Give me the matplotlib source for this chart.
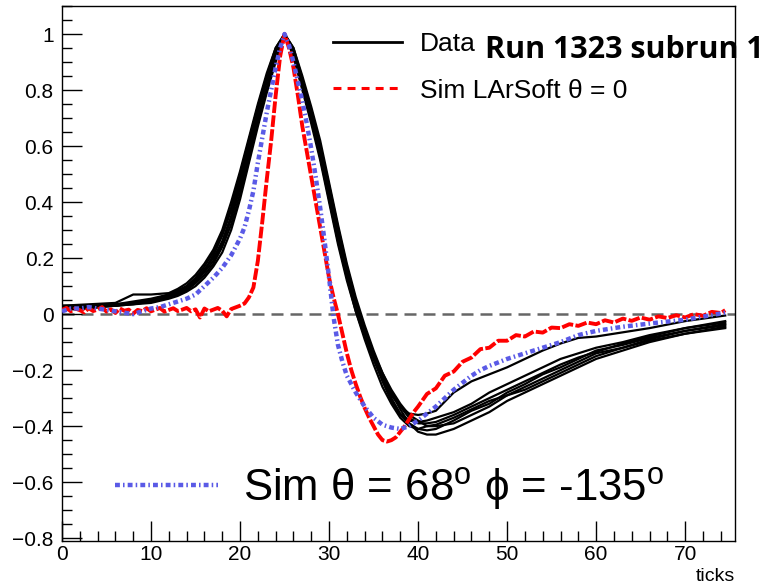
import matplotlib
matplotlib.use('Agg')
import matplotlib.pyplot as plt
from matplotlib import font_manager
from matplotlib.lines import Line2D
from matplotlib.ticker import MultipleLocator, FuncFormatter

# ---- data ----
# black data waveforms, all sampled at the same ticks
data_ticks = [0, 3, 6, 8, 10, 12, 13, 14, 15, 16, 17, 18, 19, 20, 21, 22, 23, 24, 25,
              26, 27, 28, 29, 30, 31, 32, 33, 34, 35, 36, 37, 38, 39, 40, 41, 42,
              44, 46, 48, 50, 52, 54, 56, 58, 60, 63, 66, 70, 74.5]
data_1 = [0.025, 0.03, 0.035, 0.04, 0.05, 0.07, 0.085, 0.10, 0.125, 0.16, 0.20, 0.26, 0.35, 0.47,
          0.60, 0.72, 0.83, 0.93, 1.0, 0.93, 0.81, 0.70, 0.57, 0.42, 0.27, 0.14, 0.02, -0.07, -0.15,
          -0.22, -0.28, -0.33, -0.37, -0.39, -0.39, -0.385, -0.36, -0.33, -0.30, -0.27, -0.24,
          -0.21, -0.18, -0.155, -0.135, -0.105, -0.08, -0.05, -0.03]
data_2 = [0.03, 0.035, 0.04, 0.07, 0.07, 0.075, 0.09, 0.11, 0.14, 0.18, 0.23, 0.30, 0.40, 0.51,
          0.63, 0.75, 0.86, 0.95, 1.0, 0.92, 0.80, 0.68, 0.55, 0.40, 0.25, 0.12, 0.01, -0.08, -0.16,
          -0.23, -0.29, -0.33, -0.355, -0.36, -0.355, -0.345, -0.28, -0.24, -0.215, -0.19, -0.16,
          -0.13, -0.105, -0.085, -0.08, -0.065, -0.05, -0.025, -0.005]
data_3 = [0.02, 0.025, 0.03, 0.035, 0.04, 0.055, 0.065, 0.08, 0.10, 0.13, 0.17, 0.22, 0.30, 0.41,
          0.54, 0.67, 0.79, 0.90, 1.0, 0.95, 0.85, 0.74, 0.62, 0.47, 0.32, 0.18, 0.06, -0.04, -0.13,
          -0.21, -0.28, -0.34, -0.39, -0.42, -0.43, -0.43, -0.41, -0.38, -0.35, -0.31, -0.28,
          -0.25, -0.22, -0.19, -0.16, -0.13, -0.10, -0.07, -0.05]
data_4 = [0.02, 0.03, 0.03, 0.04, 0.045, 0.06, 0.075, 0.09, 0.115, 0.15, 0.19, 0.25, 0.34, 0.45,
          0.58, 0.70, 0.81, 0.92, 1.0, 0.94, 0.83, 0.72, 0.59, 0.45, 0.30, 0.16, 0.04, -0.05, -0.14,
          -0.21, -0.27, -0.32, -0.36, -0.38, -0.40, -0.40, -0.39, -0.36, -0.33, -0.29, -0.26,
          -0.23, -0.20, -0.17, -0.14, -0.12, -0.09, -0.06, -0.04]
data_5 = [0.03, 0.03, 0.035, 0.045, 0.055, 0.07, 0.08, 0.095, 0.12, 0.155, 0.21, 0.28, 0.37, 0.49,
          0.62, 0.74, 0.85, 0.94, 1.0, 0.93, 0.82, 0.71, 0.58, 0.44, 0.29, 0.15, 0.03, -0.07, -0.16,
          -0.24, -0.31, -0.36, -0.39, -0.41, -0.415, -0.41, -0.38, -0.345, -0.32, -0.28, -0.25,
          -0.215, -0.19, -0.16, -0.13, -0.11, -0.085, -0.06, -0.035]
data_6 = [0.015, 0.02, 0.03, 0.035, 0.045, 0.06, 0.07, 0.085, 0.11, 0.14, 0.18, 0.24, 0.32, 0.43,
          0.56, 0.69, 0.80, 0.91, 1.0, 0.95, 0.84, 0.73, 0.60, 0.46, 0.31, 0.17, 0.05, -0.06, -0.15,
          -0.23, -0.30, -0.355, -0.38, -0.385, -0.38, -0.37, -0.35, -0.32, -0.28, -0.25, -0.22,
          -0.19, -0.16, -0.14, -0.12, -0.10, -0.075, -0.05, -0.025]
data_7 = [0.025, 0.03, 0.03, 0.04, 0.05, 0.065, 0.08, 0.10, 0.13, 0.17, 0.22, 0.29, 0.38, 0.50,
          0.62, 0.74, 0.85, 0.95, 1.0, 0.93, 0.82, 0.70, 0.56, 0.41, 0.26, 0.13, 0.01, -0.09, -0.18,
          -0.26, -0.32, -0.37, -0.40, -0.41, -0.40, -0.395, -0.37, -0.34, -0.31, -0.29, -0.27,
          -0.24, -0.21, -0.18, -0.15, -0.12, -0.095, -0.07, -0.045]
data_runs = [data_1, data_2, data_3, data_4, data_5, data_6, data_7]

# red: Sim LArSoft theta = 0
sim0_ticks = [0.0, 0.5, 1.0, 1.5, 2.0, 2.5, 3.0, 3.5, 4.0, 4.5, 5.0, 5.5, 6.0, 6.5, 7.0, 7.5,
              8.0, 8.5, 9.0, 9.5, 10.0, 10.5, 11.0, 11.5, 12.0, 12.5, 13.0, 13.5, 14.0, 14.5,
              15.0, 15.5, 16.0, 16.5, 17.0, 17.5, 18.0, 18.5, 19.0, 19.5, 20.0, 20.5, 21.0,
              21.5, 22.0, 22.5, 23.0, 23.5, 24.0, 24.5, 25.0, 25.5, 26.0, 26.5, 27.0, 27.5,
              28.0, 28.5, 29.0, 29.5, 30.0, 30.5, 31.0, 31.5, 32.0, 32.5, 33.0, 33.5, 34.0,
              34.5, 35.0, 35.5, 36.0, 36.5, 37.0, 37.5, 38.0, 38.5, 39.0, 39.5, 40.0,
              41, 42, 43, 44, 45, 46, 47, 48, 49, 50, 51, 52, 53, 54, 55, 56, 57, 58, 59, 60,
              61, 62, 63, 64, 65, 66, 67, 68, 69, 70, 71, 72, 73, 74, 74.5]
sim0 = [0.015, 0.022, 0.010, 0.020, 0.014, 0.006, 0.021, 0.011, 0.016, 0.025, 0.009, 0.017,
        0.004, 0.020, 0.012, 0.016, 0.002, 0.015, 0.011, 0.021, 0.010, 0.016, 0.022, 0.009,
        0.015, 0.021, 0.011, 0.016, 0.022, 0.010, 0.017, -0.012, 0.020, 0.010, 0.016, 0.022,
        0.012, -0.008, 0.018, 0.024, 0.030, 0.038, 0.060, 0.095, 0.19, 0.33, 0.48, 0.62, 0.78,
        0.92, 1.0, 0.95, 0.88, 0.78, 0.67, 0.58, 0.49, 0.40, 0.31, 0.22, 0.13, 0.06, 0.0,
        -0.07, -0.14, -0.20, -0.25, -0.295, -0.335, -0.37, -0.40, -0.43, -0.45, -0.455, -0.45,
        -0.44, -0.42, -0.40, -0.375, -0.35, -0.33,
        -0.285, -0.265, -0.22, -0.205, -0.17, -0.155, -0.125, -0.12, -0.095, -0.095, -0.075,
        -0.08, -0.062, -0.066, -0.048, -0.05, -0.036, -0.042, -0.03, -0.036, -0.022, -0.03,
        -0.016, -0.024, -0.012, -0.02, -0.008, -0.014, -0.004, -0.012, 0.0, -0.006, 0.008,
        0.004, 0.014]

# blue: Sim theta = 68, phi = -135
sim68_ticks = [0, 1, 2, 3, 4, 5, 6, 7, 8, 9, 10, 11, 12, 13, 14, 15, 16, 17, 18, 19, 20,
               20.5, 21, 21.5, 22, 22.5, 23, 23.5, 24, 24.5, 25, 25.5, 26, 26.5, 27, 27.5,
               28, 28.5, 29, 29.5, 30, 30.5, 31, 31.5, 32,
               33, 34, 35, 36, 37, 38, 39, 40, 41, 42, 43, 44, 45, 46, 47, 48,
               50, 52, 54, 56, 58, 60, 63, 67, 70, 74.5]
sim68 = [0.01, 0.02, 0.02, 0.025, 0.02, 0.015, 0.01, 0.005, 0.0, 0.01, 0.02, 0.025, 0.035,
         0.045, 0.055, 0.07, 0.10, 0.13, 0.165, 0.21, 0.27,
         0.31, 0.37, 0.44, 0.54, 0.63, 0.72, 0.80, 0.88, 0.95, 1.0, 0.96, 0.90, 0.83, 0.76,
         0.68, 0.59, 0.49, 0.38, 0.26, 0.13, -0.01, -0.11, -0.17, -0.22,
         -0.28, -0.33, -0.37, -0.395, -0.405, -0.41, -0.40, -0.38, -0.355, -0.33, -0.30,
         -0.27, -0.245, -0.22, -0.20, -0.185,
         -0.16, -0.14, -0.12, -0.10, -0.075, -0.06, -0.045, -0.03, -0.02, 0.005]

plt.rcParams['font.family'] = ['Liberation Sans', 'DejaVu Sans']
plt.rcParams['mathtext.fontset'] = 'custom'
plt.rcParams['mathtext.rm'] = 'Liberation Sans'
plt.rcParams['mathtext.it'] = 'Liberation Sans:italic'

installed = {f.name for f in font_manager.fontManager.ttflist}
if 'Liberation Sans Narrow' in installed:
    big_family, big_size = ['Liberation Sans Narrow', 'DejaVu Sans'], 37
else:
    big_family, big_size = ['Liberation Sans', 'DejaVu Sans'], 31.5
bold_family = [f for f in ['Open Sans', 'Noto Sans', 'Lato'] if f in installed][:1] + ['DejaVu Sans']

blue = '#5a5ae6'

fig = plt.figure(figsize=(7.69, 5.85), dpi=100)
ax = fig.add_axes([62 / 769, 1 - 541 / 585, (735 - 62) / 769, (541 - 6) / 585])

ax.axhline(0, color='#666666', lw=1.8, linestyle=(0, (4.8, 2.8)), zorder=1)
for d in data_runs:
    ax.plot(data_ticks, d, color='black', lw=1.6, zorder=2)
ax.plot(sim0_ticks, sim0, color='red', lw=2.8, linestyle=(0, (3.0, 0.6)), zorder=3)
ax.plot(sim68_ticks, sim68, color=blue, lw=3.2, linestyle=(0, (1.1, 0.7, 0.35, 0.7)), zorder=4)

ax.set_xlim(0, 75.6)
ax.set_ylim(-0.81, 1.1)
ax.xaxis.set_major_locator(MultipleLocator(10))
ax.xaxis.set_minor_locator(MultipleLocator(2))
ax.yaxis.set_major_locator(MultipleLocator(0.2))
ax.yaxis.set_minor_locator(MultipleLocator(0.05))
ax.yaxis.set_major_formatter(FuncFormatter(
    lambda v, p: ('%g' % (round(v, 6) + 0.0)).replace('-', '\u2212')))
ax.tick_params(which='both', direction='in', top=False, right=False, width=1, labelsize=15)
ax.tick_params(which='major', length=14.4)
ax.tick_params(which='minor', length=7.2)
ax.tick_params(axis='x', pad=3)
ax.tick_params(axis='y', pad=6)
for s in ax.spines.values():
    s.set_linewidth(1.0)
ax.set_xlabel('ticks', loc='right', fontsize=14, labelpad=3)

h_data = Line2D([], [], color='black', lw=2.0)
h_sim0 = Line2D([], [], color='red', lw=2.2, linestyle=(0, (2.6, 2.0)))
leg1 = ax.legend([h_data, h_sim0], ['Data', 'Sim LArSoft \u03b8 = 0'],
                 loc='upper left', bbox_to_anchor=(333 / 769, 1 - 32 / 585),
                 bbox_transform=fig.transFigure, frameon=False, fontsize=19,
                 handlelength=2.6, handletextpad=0.68, labelspacing=0.86,
                 borderpad=0, borderaxespad=0)
ax.add_artist(leg1)

h_sim68 = Line2D([], [], color=blue, lw=3.2, linestyle=(0, (1.1, 0.7, 0.35, 0.7)))
ax.legend([h_sim68], ['Sim \u03b8 = 68$^{\\mathrm{o}}$ \u03d5 = -135$^{\\mathrm{o}}$'],
          loc='upper left', bbox_to_anchor=(115 / 769, 1 - 465 / 585),
          bbox_transform=fig.transFigure, frameon=False,
          prop={'family': big_family, 'size': big_size},
          handlelength=74 / big_size, handletextpad=18 / big_size,
          borderpad=0, borderaxespad=0)

fig.text(485 / 769, 1 - 58 / 585, 'Run 1323 subrun 1', fontsize=22, fontweight='bold',
         family=bold_family, ha='left', va='baseline')

fig.savefig('out.png', dpi=100)
